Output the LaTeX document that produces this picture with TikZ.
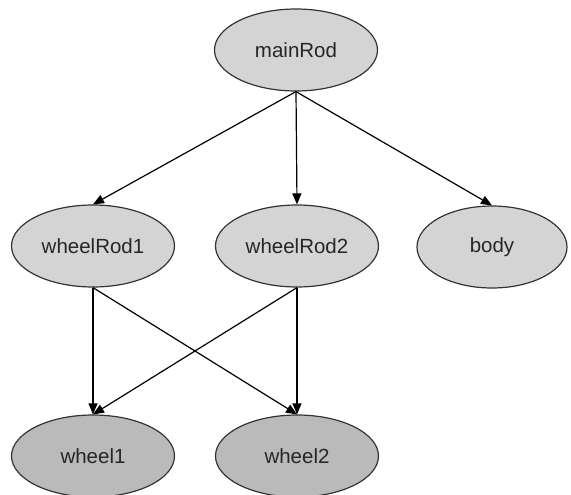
\documentclass[tikz,border=0pt]{standalone}
\usepackage{fontspec}
\setmainfont{Liberation Sans}
\usetikzlibrary{shapes,arrows.meta}

\begin{document}
\begin{tikzpicture}[x=1pt,y=-1pt]
\tikzstyle{part}=[
	ellipse,
	draw=black!80,
	line width=1.2pt,
	fill=black!17,
	text=black!85,
	font=\fontsize{20.5}{24}\selectfont,
	inner sep=0pt,
	minimum width=163pt,
	minimum height=82pt ]
\tikzstyle{leaf}=[part, fill=black!27]
\tikzstyle{link}=[-{Triangle[length=11pt,width=9pt]}, line width=1.2pt, black]
\useasboundingbox (0,0) rectangle (571,495);
\node[part] (mainRod) at (296,50) {mainRod};
\node[part] (wheelRod1) at (93,246) {wheelRod1};
\node[part] (wheelRod2) at (297,246) {wheelRod2};
\node[part, minimum width=150pt] (body) at (492,247) {body};
\node[leaf] (wheel1) at (93,456) {wheel1};
\node[leaf] (wheel2) at (297,456) {wheel2};
\draw[link] (mainRod.south) -- (wheelRod1.north);
\draw[link] (mainRod.south) -- (wheelRod2.north);
\draw[link] (mainRod.south) -- (body.north);
\draw[link] (wheelRod1.south) -- (wheel1.north);
\draw[link] (wheelRod1.south) -- (wheel2.north);
\draw[link] (wheelRod2.south) -- (wheel1.north);
\draw[link] (wheelRod2.south) -- (wheel2.north);
\end{tikzpicture}
\end{document}
